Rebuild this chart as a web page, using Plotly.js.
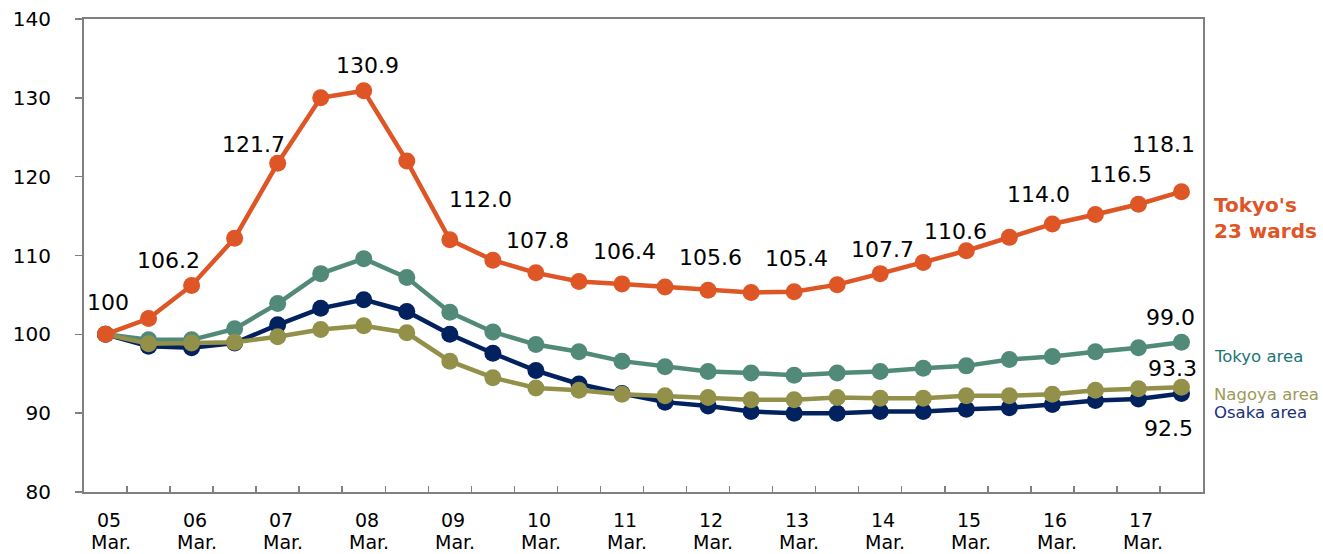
<!DOCTYPE html>
<html>
<head>
<meta charset="utf-8">
<script src="https://cdn.plot.ly/plotly-3.0.1.min.js"></script>
<style>html,body{margin:0;padding:0;background:#fff;}#chart{width:1323px;height:554px;}</style>
</head>
<body>
<div id="chart"></div>
<script>
// Half-yearly observation points, Mar. 2005 .. Sep. 2017 (index 0..25)
const periods = ["05 Mar.","05 Sep.","06 Mar.","06 Sep.","07 Mar.","07 Sep.","08 Mar.","08 Sep.",
  "09 Mar.","09 Sep.","10 Mar.","10 Sep.","11 Mar.","11 Sep.","12 Mar.","12 Sep.",
  "13 Mar.","13 Sep.","14 Mar.","14 Sep.","15 Mar.","15 Sep.","16 Mar.","16 Sep.","17 Mar.","17 Sep."];
const yearLabels = ["05","06","07","08","09","10","11","12","13","14","15","16","17"];
const monthLabel = "Mar.";

const tokyo23 = [100, 102.0, 106.2, 112.2, 121.7, 130.0, 130.9, 122.0, 112.0, 109.4, 107.8, 106.7, 106.4,
  106.0, 105.6, 105.3, 105.4, 106.3, 107.7, 109.1, 110.6, 112.3, 114.0, 115.2, 116.5, 118.1];
const tokyoArea = [100, 99.3, 99.3, 100.7, 103.9, 107.7, 109.6, 107.2, 102.8, 100.3, 98.7, 97.8, 96.6,
  95.9, 95.3, 95.1, 94.8, 95.1, 95.3, 95.7, 96.0, 96.8, 97.2, 97.8, 98.3, 99.0];
const osakaArea = [100, 98.5, 98.3, 98.9, 101.2, 103.3, 104.4, 102.9, 100.0, 97.6, 95.4, 93.7, 92.5,
  91.4, 90.9, 90.2, 90.0, 90.0, 90.2, 90.2, 90.5, 90.7, 91.1, 91.6, 91.8, 92.5];
const nagoyaArea = [100, 98.8, 98.9, 99.0, 99.7, 100.6, 101.1, 100.2, 96.6, 94.5, 93.2, 92.9, 92.4,
  92.2, 92.0, 91.7, 91.7, 92.0, 91.9, 91.9, 92.2, 92.2, 92.4, 92.9, 93.1, 93.3];

// Which points carry a value label
const tokyo23LabelIdx = [0, 2, 4, 6, 8, 10, 12, 14, 16, 18, 20, 22, 24, 25];

// Label offsets (presentation only, pixels)
const tokyo23LabelShift = {
  0:[2,32], 2:[-23,25], 4:[-24,19], 6:[4,25], 8:[31,40], 10:[2,32], 12:[3,32],
  14:[2,33], 16:[2,33], 18:[2,24], 20:[-11,19], 22:[-14,29], 24:[-18,30], 25:[-18,47]
};

const C_ORANGE = "#DE5526", C_TEAL = "#528A7A", C_NAVY = "#02215F", C_OLIVE = "#939049";
const FONT = "DejaVu Sans, Verdana, sans-serif";

const xIdx = periods.map((_, i) => i);

function series(y, color, name) {
  return {
    type: "scatter", mode: "lines+markers", name: name, x: xIdx, y: y,
    line: {color: color, width: 4.5},
    marker: {color: color, size: 17},
    cliponaxis: false, hoverinfo: "x+y"
  };
}

const traces = [
  series(tokyoArea, C_TEAL, "Tokyo area"),
  series(osakaArea, C_NAVY, "Osaka area"),
  series(nagoyaArea, C_OLIVE, "Nagoya area"),
  series(tokyo23, C_ORANGE, "Tokyo's 23 wards")
];

const annotations = [];
const last = periods.length - 1;

tokyo23LabelIdx.forEach(i => {
  const v = tokyo23[i];
  const s = tokyo23LabelShift[i];
  annotations.push({
    x: i, y: v, xref: "x", yref: "y", showarrow: false,
    text: (v === 100 && i === 0) ? "100" : v.toFixed(1),
    xshift: s[0], yshift: s[1],
    font: {family: FONT, size: 22, color: "#000"}
  });
});

[[tokyoArea, -11, 25], [nagoyaArea, -9, 19], [osakaArea, -13, -35]].forEach(([arr, xs, ys]) => {
  annotations.push({
    x: last, y: arr[last], xref: "x", yref: "y", showarrow: false,
    text: arr[last].toFixed(1), xshift: xs, yshift: ys,
    font: {family: FONT, size: 22, color: "#000"}
  });
});

// Series name labels
annotations.push({
  x: last, y: tokyo23[last], xref: "x", yref: "y", showarrow: false, xanchor: "left", align: "left",
  text: "<b>Tokyo's<br>23 wards</b>", xshift: 31, yshift: -26,
  font: {family: FONT, size: 20, color: C_ORANGE}
});
annotations.push({
  x: last, y: tokyoArea[last], xref: "x", yref: "y", showarrow: false, xanchor: "left",
  text: "Tokyo area", xshift: 31, yshift: -14,
  font: {family: FONT, size: 16.5, color: "#1B7575"}
});
annotations.push({
  x: last, y: nagoyaArea[last], xref: "x", yref: "y", showarrow: false, xanchor: "left",
  text: "Nagoya area", xshift: 31, yshift: -7,
  font: {family: FONT, size: 16.5, color: "#9C9A5A"}
});
annotations.push({
  x: last, y: osakaArea[last], xref: "x", yref: "y", showarrow: false, xanchor: "left",
  text: "Osaka area", xshift: 31, yshift: -19,
  font: {family: FONT, size: 16.5, color: "#17307A"}
});

// X category labels (every March): year line and month line
yearLabels.forEach((yl, k) => {
  annotations.push({
    x: k * 2, y: 0, xref: "x", yref: "paper", yanchor: "middle", showarrow: false,
    text: yl, xshift: 3, yshift: -28,
    font: {family: FONT, size: 19, color: "#000"}
  });
  annotations.push({
    x: k * 2, y: 0, xref: "x", yref: "paper", yanchor: "middle", showarrow: false,
    text: monthLabel, xshift: 5, yshift: -50,
    font: {family: FONT, size: 19, color: "#000"}
  });
});

const boundaries = [];
for (let i = 0; i < last; i++) boundaries.push(i + 0.5);

const layout = {
  width: 1323, height: 554,
  margin: {l: 84, r: 120, t: 19, b: 62},
  paper_bgcolor: "#fff", plot_bgcolor: "#fff",
  showlegend: false,
  font: {family: FONT, size: 20, color: "#000"},
  xaxis: {
    range: [-0.5, last + 0.5], tickvals: boundaries, showticklabels: false,
    ticks: "inside", ticklen: 6, tickwidth: 1.5, tickcolor: "#808080",
    showgrid: false, zeroline: false, showline: true, mirror: true,
    linecolor: "#808080", linewidth: 2
  },
  yaxis: {
    range: [80, 140], dtick: 10, tick0: 80,
    ticks: "outside", ticklen: 7, tickwidth: 1.5, tickcolor: "#808080",
    tickfont: {family: FONT, size: 20, color: "#000"},
    ticklabelstandoff: 20,
    showgrid: false, zeroline: false, showline: true, mirror: true,
    linecolor: "#808080", linewidth: 2
  },
  annotations: annotations
};

Plotly.newPlot("chart", traces, layout, {displayModeBar: false, staticPlot: true});
</script>
</body>
</html>
